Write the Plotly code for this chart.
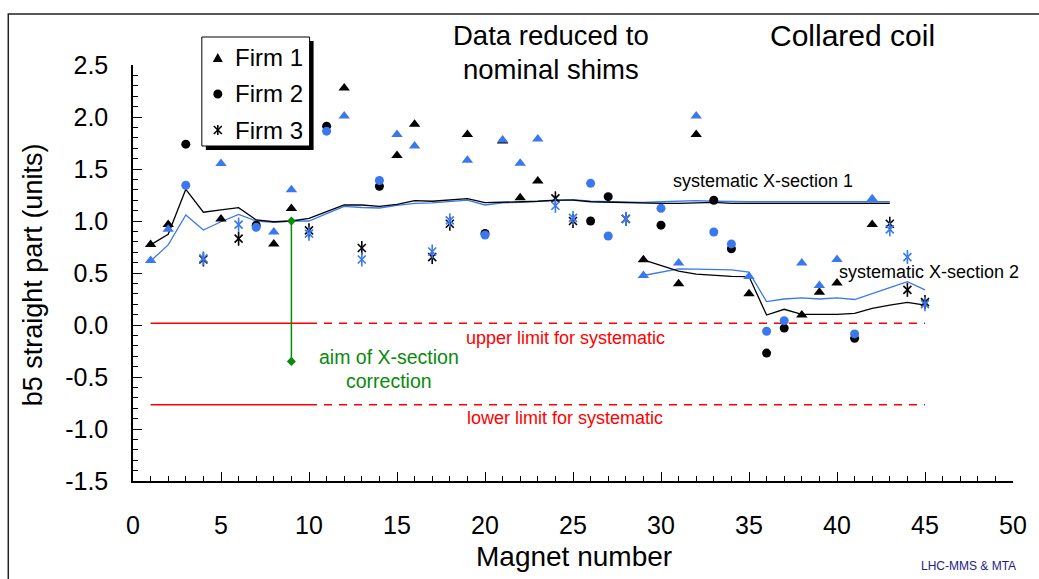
import plotly.graph_objects as go

# ---------------- data ----------------
magnets = list(range(1, 46))
firm = [1, 1, 2, 3, 1, 3, 2, 1, 1, 3,
        2, 1, 3, 2, 1, 1, 3, 3, 1, 2,
        1, 1, 1, 3, 3, 2, 2, 3, 1, 2,
        1, 1, 2, 2, 1, 2, 2, 1, 1, 1,
        2, 1, 3, 3, 3]
b5_black = [0.775, 0.967, 1.739, 0.63, 1.019, 0.83, 0.96, 0.78, 1.119, 0.91,
            1.912, 2.28, 0.74, 1.334, 1.63, 1.93, 0.653, 0.974, 1.832, 0.88,
            1.77, 1.224, 1.385, 1.218, 1.0, 1.0, 1.234, 1.02, 0.627, 0.96,
            0.396, 1.832, 1.2, 0.733, 0.30, -0.27, -0.03, 0.097, 0.315, 0.405,
            -0.128, 0.967, 0.974, 0.338, 0.22]
b5_blue = [0.62, 0.92, 1.344, 0.64, 1.553, 0.965, 0.939, 0.894, 1.30, 0.878,
           1.864, 2.01, 0.63, 1.389, 1.832, 1.72, 0.707, 1.006, 1.585, 0.865,
           1.78, 1.555, 1.788, 1.147, 1.03, 1.362, 0.856, 1.02, 0.476, 1.122,
           0.595, 2.01, 0.894, 0.78, 0.466, -0.06, 0.042, 0.595, 0.38, 0.63,
           -0.086, 1.215, 0.92, 0.653, 0.20]

xs1_magnets = list(range(1, 44))
xs1_black = [0.77, 0.872, 1.305, 1.084, 1.106, 1.128, 1.01, 0.993, 1.0, 1.026,
             1.09, 1.154, 1.154, 1.14, 1.16, 1.195, 1.19, 1.2, 1.215, 1.176,
             1.18, 1.19, 1.19, 1.2, 1.2, 1.185, 1.18, 1.175, 1.17, 1.17,
             1.17, 1.175, 1.18, 1.17, 1.17, 1.17, 1.17, 1.17, 1.17, 1.17,
             1.17, 1.17, 1.17]
xs1_blue = [0.615, 0.77, 1.058, 0.913, 0.993, 1.064, 1.0, 0.987, 1.0, 1.0,
            1.07, 1.14, 1.13, 1.125, 1.15, 1.17, 1.175, 1.19, 1.2, 1.154,
            1.175, 1.18, 1.19, 1.2, 1.205, 1.19, 1.185, 1.18, 1.18, 1.185,
            1.19, 1.195, 1.19, 1.185, 1.185, 1.185, 1.185, 1.185, 1.185, 1.185,
            1.185, 1.185, 1.185]

xs2_magnets = list(range(29, 46))
xs2_black = [0.627, 0.57, 0.518, 0.49, 0.476, 0.468, 0.466, 0.096, 0.151, 0.103,
             0.103, 0.103, 0.112, 0.16, 0.192, 0.218, 0.192]
xs2_blue = [0.476, 0.508, 0.54, 0.537, 0.535, 0.53, 0.508, 0.225, 0.25, 0.26,
            0.25, 0.26, 0.245, 0.305, 0.36, 0.417, 0.337]

upper_limit = 0.017
lower_limit = -0.767
limit_solid_x = [1, 10]
limit_dash_x = [10, 45]
aim_magnet = 9
aim_values = [1.0, -0.35]

x_ticks = list(range(0, 51, 5))
y_ticks = [-1.5, -1.0, -0.5, 0.0, 0.5, 1.0, 1.5, 2.0, 2.5]
y_ticktext = ["-1.5", "-1.0", "-0.5", "0.0", "0.5", "1.0", "1.5", "2.0", "2.5"]

firm_names = ["Firm 1", "Firm 2", "Firm 3"]

# ---------------- style ----------------
W, H = 1039, 579
L, R, T, B = 133, 24, 65, 98
BLUE = "#3a78f0"
RED = "#ff0000"
GREEN = "#0a8a0a"
FONT = "Liberation Sans, Arial, sans-serif"
XR = [0, 50]
YR = [-1.5, 2.5]


def pxp(px):
    return (px - L) / (W - L - R)


def pyp(py):
    return (H - B - py) / (H - T - B)


fig = go.Figure()

# systematic lines
for xs, ys, col in [(xs1_magnets, xs1_blue, BLUE), (xs1_magnets, xs1_black, "black"),
                    (xs2_magnets, xs2_blue, BLUE), (xs2_magnets, xs2_black, "black")]:
    fig.add_trace(go.Scatter(x=xs, y=ys, mode="lines",
                             line=dict(color=col, width=1.3), showlegend=False))

# limits
for lim in (upper_limit, lower_limit):
    fig.add_trace(go.Scatter(x=limit_solid_x, y=[lim, lim], mode="lines",
                             line=dict(color=RED, width=1.3), showlegend=False))
    fig.add_trace(go.Scatter(x=limit_dash_x, y=[lim, lim], mode="lines",
                             line=dict(color=RED, width=1.3, dash="8px,7px"),
                             showlegend=False))

# aim of X-section correction
fig.add_trace(go.Scatter(x=[aim_magnet, aim_magnet], y=aim_values, mode="lines+markers",
                         line=dict(color=GREEN, width=1.5),
                         marker=dict(symbol="diamond", size=7, color=GREEN),
                         showlegend=False))


def add_markers(xv, yv, f, col):
    if f == 1:
        fig.add_trace(go.Scatter(x=xv, y=yv, mode="markers",
                                 marker=dict(symbol="triangle-up", size=10, color=col,
                                             line=dict(width=0)),
                                 showlegend=False))
    elif f == 2:
        fig.add_trace(go.Scatter(x=xv, y=yv, mode="markers",
                                 marker=dict(symbol="circle", size=9, color=col,
                                             line=dict(width=0)),
                                 showlegend=False))
    else:
        fig.add_trace(go.Scatter(x=xv, y=yv, mode="markers",
                                 marker=dict(symbol="x-thin-open", size=8, color=col,
                                             line=dict(color=col, width=1.6)),
                                 showlegend=False))
        fig.add_trace(go.Scatter(x=xv, y=yv, mode="markers",
                                 marker=dict(symbol="line-ns-open", size=10, color=col,
                                             line=dict(color=col, width=1.6)),
                                 showlegend=False))


for vals, col in [(b5_black, "black"), (b5_blue, BLUE)]:
    for f in (1, 2, 3):
        xv = [m for m, ff in zip(magnets, firm) if ff == f]
        yv = [v for v, ff in zip(vals, firm) if ff == f]
        add_markers(xv, yv, f, col)

# ---------------- legend (manual) ----------------
shapes = []
shapes.append(dict(type="rect", xref="paper", yref="paper",
                   x0=pxp(206), x1=pxp(314), y0=pyp(150), y1=pyp(41),
                   fillcolor="black", line=dict(width=0), layer="below"))
shapes.append(dict(type="rect", xref="paper", yref="paper",
                   x0=pxp(202), x1=pxp(310), y0=pyp(146), y1=pyp(37),
                   fillcolor="white", line=dict(color="black", width=1), layer="below"))
# outer frame
shapes.append(dict(type="rect", xref="paper", yref="paper",
                   x0=pxp(8), x1=pxp(1060), y0=pyp(600), y1=pyp(14),
                   fillcolor="rgba(0,0,0,0)", line=dict(color="#222222", width=1.5),
                   layer="below"))


def pth(points):
    return "M " + " L ".join(f"{pxp(a):.5f},{pyp(b):.5f}" for a, b in points) + " Z"


def seg(x0, y0, x1, y1):
    shapes.append(dict(type="line", xref="paper", yref="paper",
                       x0=pxp(x0), y0=pyp(y0), x1=pxp(x1), y1=pyp(y1),
                       line=dict(color="black", width=1.6), layer="above"))


leg_px = 218
leg_py = [58, 94, 130]
# Firm 1 symbol: triangle
cy = leg_py[0]
shapes.append(dict(type="path", xref="paper", yref="paper",
                   path=pth([(leg_px, cy - 5), (leg_px - 5, cy + 4), (leg_px + 5, cy + 4)]),
                   fillcolor="black", line=dict(width=0), layer="above"))
# Firm 2 symbol: circle
cy = leg_py[1]
shapes.append(dict(type="circle", xref="paper", yref="paper",
                   x0=pxp(leg_px - 4.5), x1=pxp(leg_px + 4.5),
                   y0=pyp(cy + 4.5), y1=pyp(cy - 4.5),
                   fillcolor="black", line=dict(width=0), layer="above"))
# Firm 3 symbol: star
cy = leg_py[2]
seg(leg_px - 4, cy - 4, leg_px + 4, cy + 4)
seg(leg_px - 4, cy + 4, leg_px + 4, cy - 4)
seg(leg_px, cy - 5, leg_px, cy + 5)

annotations = []
for name, py in zip(firm_names, leg_py):
    annotations.append(dict(x=pxp(233), y=pyp(py), xref="paper", yref="paper",
                            text=name, showarrow=False, xanchor="left", yanchor="middle",
                            font=dict(family=FONT, size=24, color="black")))


# ---------------- texts ----------------
def txt(px, py, s, size, color="black", anchor="center"):
    annotations.append(dict(x=pxp(px), y=pyp(py), xref="paper", yref="paper",
                            text=s, showarrow=False, xanchor=anchor, yanchor="middle",
                            font=dict(family=FONT, size=size, color=color)))


txt(552, 35, "Data reduced to", 27.5)
txt(552, 70, "nominal shims", 27.5)
txt(854, 36, "Collared coil", 30)
txt(764, 181, "systematic X-section 1", 18)
txt(931, 272, "systematic X-section 2", 18)
txt(566, 338, "upper limit for systematic", 18, RED)
txt(566, 418, "lower limit for systematic", 18, RED)
txt(390, 357, "aim of X-section", 19.5, GREEN)
txt(390, 381, "correction", 19.5, GREEN)
txt(970, 566, "LHC-MMS &amp; MTA", 12, "#1c1c8a")
txt(575, 556, "Magnet number", 28)
annotations.append(dict(x=pxp(33), y=pyp(275), xref="paper", yref="paper",
                        text="b5 straight part (units)", showarrow=False, textangle=-90,
                        xanchor="center", yanchor="middle",
                        font=dict(family=FONT, size=27, color="black")))

fig.update_layout(
    width=W, height=H,
    margin=dict(l=L, r=R, t=T, b=B),
    paper_bgcolor="white", plot_bgcolor="white",
    showlegend=False,
    font=dict(family=FONT, color="black"),
    shapes=shapes, annotations=annotations,
    xaxis=dict(range=XR, tickvals=x_ticks, ticks="inside", ticklen=9, tickwidth=1,
               tickcolor="black", showline=True, linecolor="black", linewidth=1.5,
               showgrid=False, zeroline=False, ticklabelstandoff=21,
               tickfont=dict(family=FONT, size=25, color="black"),
               minor=dict(dtick=1, ticks="inside", ticklen=5, tickcolor="black",
                          showgrid=False)),
    yaxis=dict(range=YR, tickvals=y_ticks, ticktext=y_ticktext, ticks="inside",
               ticklen=9, tickwidth=1, tickcolor="black", showline=True,
               linecolor="black", linewidth=1.5, showgrid=False, zeroline=False,
               ticklabelstandoff=18,
               tickfont=dict(family=FONT, size=25, color="black"),
               minor=dict(dtick=0.1, tick0=0, ticks="inside", ticklen=5,
                          tickcolor="black", showgrid=False)),
)

fig.write_html("out.html")
